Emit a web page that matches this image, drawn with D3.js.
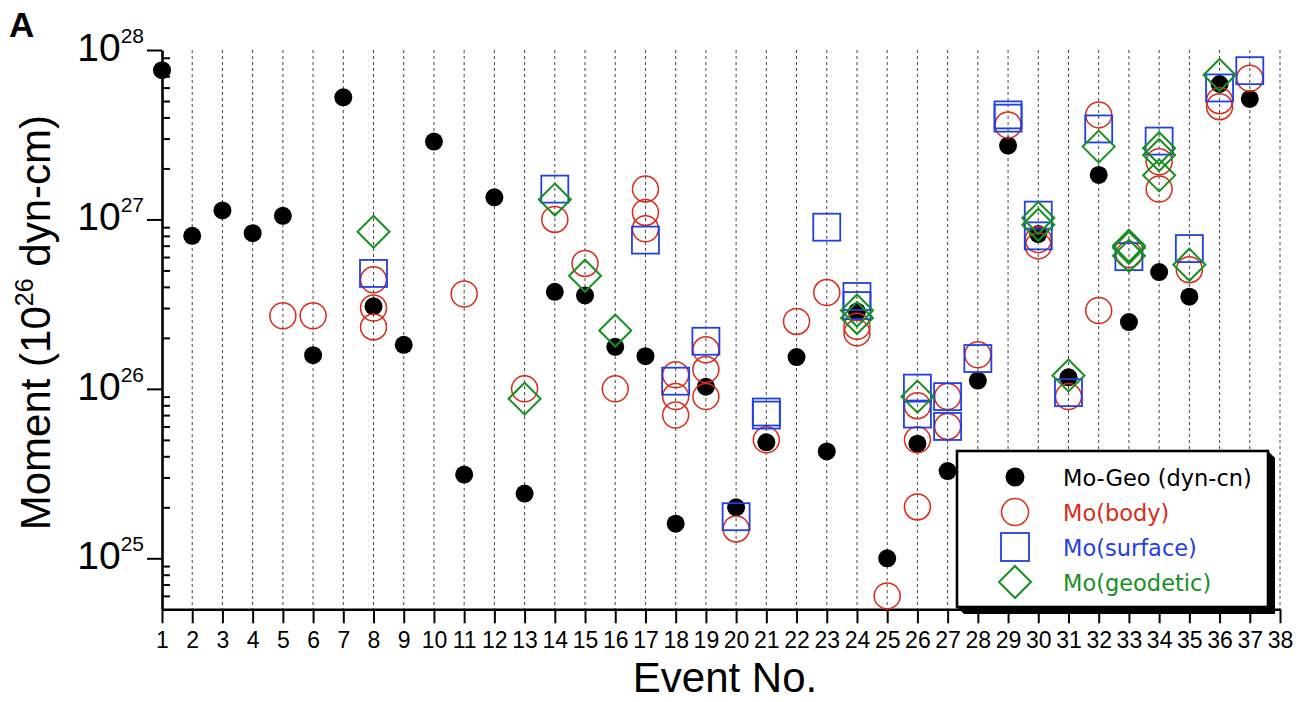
<!DOCTYPE html>
<html>
<head>
<meta charset="utf-8">
<script src="https://cdn.jsdelivr.net/npm/d3@7"></script>
<style>
  html, body { margin: 0; padding: 0; background: #fff; }
  svg { display: block; }
</style>
</head>
<body>
<svg id="chart" width="1300" height="702"></svg>
<script>
// Seismic moment estimates per event (dyn-cm), [event number, moment]
const moGeo = [
  [1, 7.6e27], [2, 8.0e26], [3, 1.13e27], [4, 8.3e26], [5, 1.05e27], [6, 1.58e26],
  [7, 5.26e27], [8, 3.07e26], [9, 1.82e26], [10, 2.88e27], [11, 3.12e25], [12, 1.35e27],
  [13, 2.41e25], [14, 3.74e26], [15, 3.56e26], [16, 1.77e26], [17, 1.56e26], [18, 1.6e25],
  [19, 1.03e26], [20, 2.0e25], [21, 4.84e25], [22, 1.54e26], [23, 4.27e25], [24, 2.86e26],
  [25, 1.0e25], [26, 4.75e25], [27, 3.27e25], [28, 1.12e26], [29, 2.73e27], [30, 8.2e26],
  [31, 1.17e26], [32, 1.83e27], [33, 2.48e26], [34, 4.89e26], [35, 3.5e26], [36, 6.3e27],
  [37, 5.14e27]
];
const moBody = [
  [5, 2.7e26], [6, 2.7e26], [8, 4.4e26], [8, 3.0e26], [8, 2.32e26], [11, 3.63e26],
  [13, 1.0e26], [14, 1.0e27], [15, 5.5e26], [16, 1.0e26], [17, 1.51e27], [17, 1.10e27],
  [17, 8.8e26], [18, 1.21e26], [18, 9.0e25], [18, 7.0e25], [19, 1.70e26], [19, 1.30e26],
  [19, 9.0e25], [20, 1.49e25], [21, 5.0e25], [22, 2.5e26], [23, 3.7e26], [24, 2.34e26],
  [24, 2.14e26], [25, 6.0e24], [26, 7.96e25], [26, 5.0e25], [26, 2.01e25], [27, 9.0e25],
  [27, 6.0e25], [28, 1.59e26], [29, 3.61e27], [30, 7.6e26], [30, 6.98e26], [31, 9.0e25],
  [32, 4.14e27], [32, 2.9e26], [33, 6.2e26], [34, 2.19e27], [34, 1.51e27], [35, 5.05e26],
  [36, 5.02e27], [36, 4.63e27], [37, 6.81e27]
];
const moSurface = [
  [8, 4.8e26], [14, 1.51e27], [17, 7.55e26], [18, 1.11e26], [19, 1.91e26], [20, 1.76e25],
  [21, 7.3e25], [21, 7.0e25], [23, 9.0e26], [24, 3.51e26], [24, 3.1e26], [26, 1.01e26],
  [26, 7.1e25], [27, 9.0e25], [27, 6.0e25], [28, 1.51e26], [29, 4.14e27], [29, 3.96e27],
  [30, 1.06e27], [30, 8.0e26], [31, 9.5e25], [32, 3.42e27], [33, 6.03e26], [34, 2.9e27],
  [35, 6.73e26], [36, 5.97e27], [37, 7.55e27]
];
const moGeodetic = [
  [8, 8.45e26], [13, 8.75e25], [14, 1.31e27], [15, 4.65e26], [16, 2.21e26], [24, 2.9e26],
  [24, 2.62e26], [26, 9.0e25], [30, 1.02e27], [30, 9.3e26], [31, 1.2e26], [32, 2.69e27],
  [33, 7.0e26], [33, 6.8e26], [33, 6.1e26], [34, 2.63e27], [34, 2.4e27], [34, 1.82e27],
  [35, 5.4e26], [36, 7.12e27]
];

// Axis ticks
const eventTicks = [1, 2, 3, 4, 5, 6, 7, 8, 9, 10, 11, 12, 13, 14, 15, 16, 17, 18, 19,
  20, 21, 22, 23, 24, 25, 26, 27, 28, 29, 30, 31, 32, 33, 34, 35, 36, 37, 38];
const decadeTicks = [1e25, 1e26, 1e27, 1e28];
const decadeExponents = ["25", "26", "27", "28"];
const minorTicks = [6e24, 7e24, 8e24, 9e24,
  2e25, 3e25, 4e25, 5e25, 6e25, 7e25, 8e25, 9e25,
  2e26, 3e26, 4e26, 5e26, 6e26, 7e26, 8e26, 9e26,
  2e27, 3e27, 4e27, 5e27, 6e27, 7e27, 8e27, 9e27];

const legendLabels = ["Mo-Geo (dyn-cn)", "Mo(body)", "Mo(surface)", "Mo(geodetic)"];

const RED = "#db2a18", BLUE = "#1f40e6", GREEN = "#17901f";

const svg = d3.select("#chart");
const plotLeft = 162, plotRight = 1280, plotTop = 50, plotBottom = 609.3;

const x = d3.scaleLinear().domain([1, 38]).range([plotLeft, plotRight]);
const y = d3.scaleLog().domain([5e24, 1e28]).range([plotBottom, plotTop]);

const FONT = "'Liberation Sans', Arial, Helvetica, sans-serif";

// Dashed vertical guides at each event
svg.append("g")
  .selectAll("line")
  .data(eventTicks.filter(d => d > 1))
  .join("line")
  .attr("x1", d => x(d)).attr("x2", d => x(d))
  .attr("y1", plotTop).attr("y2", plotBottom)
  .attr("stroke", "#444")
  .attr("stroke-width", 1)
  .attr("stroke-dasharray", "3,3");

// X axis
const xAxis = svg.append("g")
  .attr("transform", `translate(0,${plotBottom})`)
  .call(d3.axisBottom(x).tickValues(eventTicks).tickFormat(d3.format("d"))
    .tickSize(14).tickSizeOuter(0).tickPadding(8));
xAxis.select(".domain").attr("stroke", "#000").attr("stroke-width", 2.6);
xAxis.selectAll(".tick line").attr("stroke", "#000").attr("stroke-width", 2);
xAxis.selectAll(".tick text")
  .attr("font-family", FONT).attr("font-size", 23).attr("fill", "#000")
  .attr("dy", null).attr("y", 39);

// Y axis: major ticks outward, minor ticks inward
const yMajor = svg.append("g")
  .attr("transform", `translate(${plotLeft},0)`)
  .call(d3.axisLeft(y).tickValues(decadeTicks).tickFormat("")
    .tickSize(15).tickSizeOuter(0));
yMajor.select(".domain").attr("stroke", "#000").attr("stroke-width", 2.6);
yMajor.selectAll(".tick line").attr("stroke", "#000").attr("stroke-width", 2);

const yMinor = svg.append("g")
  .attr("transform", `translate(${plotLeft},0)`)
  .call(d3.axisRight(y).tickValues(minorTicks).tickFormat("")
    .tickSize(8).tickSizeOuter(0));
yMinor.select(".domain").remove();
yMinor.selectAll(".tick line").attr("stroke", "#000").attr("stroke-width", 2);

// Decade labels with superscript exponents
const yLabels = svg.append("g");
decadeTicks.forEach((v, i) => {
  const t = yLabels.append("text")
    .attr("x", 144).attr("y", y(v) + 11)
    .attr("text-anchor", "end")
    .attr("font-family", FONT).attr("fill", "#000");
  t.append("tspan").attr("font-size", 39).text("10");
  t.append("tspan").attr("font-size", 21).attr("dy", -18).text(decadeExponents[i]);
});

// Axis titles
const yTitle = svg.append("text")
  .attr("transform", `translate(50,${(plotTop + plotBottom) / 2 - 7}) rotate(-90)`)
  .attr("text-anchor", "middle")
  .attr("font-family", FONT).attr("font-size", 42).attr("fill", "#000");
yTitle.append("tspan").text("Moment (10");
yTitle.append("tspan").attr("font-size", 25).attr("dy", -17).text("26");
yTitle.append("tspan").attr("dy", 17).text(" dyn-cm)");

svg.append("text")
  .attr("x", 725).attr("y", 692)
  .attr("text-anchor", "middle")
  .attr("font-family", FONT).attr("font-size", 42).attr("fill", "#000")
  .text("Event No.");

svg.append("text")
  .attr("x", 9).attr("y", 37)
  .attr("font-family", FONT).attr("font-size", 35).attr("font-weight", "bold")
  .attr("fill", "#000")
  .text("A");

// Marker shapes
function drawGeo(g, cx, cy, r) {
  g.append("circle").attr("cx", cx).attr("cy", cy).attr("r", r).attr("fill", "#000");
}
function drawBody(g, cx, cy, r) {
  g.append("circle").attr("cx", cx).attr("cy", cy).attr("r", r)
    .attr("fill", "none").attr("stroke", RED).attr("stroke-width", 1.5);
}
function drawSurface(g, cx, cy, s) {
  g.append("rect").attr("x", cx - s / 2).attr("y", cy - s / 2)
    .attr("width", s).attr("height", s)
    .attr("fill", "none").attr("stroke", BLUE).attr("stroke-width", 1.8);
}
function drawGeodetic(g, cx, cy, h) {
  g.append("path")
    .attr("d", `M${cx},${cy - h}L${cx + h},${cy}L${cx},${cy + h}L${cx - h},${cy}Z`)
    .attr("fill", "none").attr("stroke", GREEN).attr("stroke-width", 2);
}

const marks = svg.append("g");
const gGeo = marks.append("g"), gBody = marks.append("g"),
      gSurf = marks.append("g"), gGeod = marks.append("g");
moGeo.forEach(([e, v]) => drawGeo(gGeo, x(e), y(v), 9));
moBody.forEach(([e, v]) => drawBody(gBody, x(e), y(v), 13));
moSurface.forEach(([e, v]) => drawSurface(gSurf, x(e), y(v), 27));
moGeodetic.forEach(([e, v]) => drawGeodetic(gGeod, x(e), y(v), 16));

// Legend with drop shadow
const lx = 957, ly = 451, lw = 311, lh = 156, sh = 7;
const legend = svg.append("g");
legend.append("path")
  .attr("d", `M${lx + lw},${ly}L${lx + lw + sh},${ly + sh}L${lx + lw + sh},${ly + lh + sh}` +
             `L${lx + sh},${ly + lh + sh}L${lx},${ly + lh}Z`)
  .attr("fill", "#000");
legend.append("rect")
  .attr("x", lx).attr("y", ly).attr("width", lw).attr("height", lh)
  .attr("fill", "#fff").attr("stroke", "#000").attr("stroke-width", 2.6);

const legendColors = ["#000", RED, BLUE, GREEN];
const rowY = i => ly + 26 + i * 35;
drawGeo(legend, 1015, rowY(0), 9.5);
drawBody(legend, 1015, rowY(1), 13.5);
drawSurface(legend, 1015, rowY(2), 28);
drawGeodetic(legend, 1015, rowY(3), 16);
legendLabels.forEach((label, i) => {
  legend.append("text")
    .attr("x", 1063).attr("y", rowY(i) + 8.5)
    .attr("font-family", "'DejaVu Sans', Verdana, sans-serif")
    .attr("font-size", 22.5)
    .attr("fill", legendColors[i])
    .text(label);
});
</script>
</body>
</html>
